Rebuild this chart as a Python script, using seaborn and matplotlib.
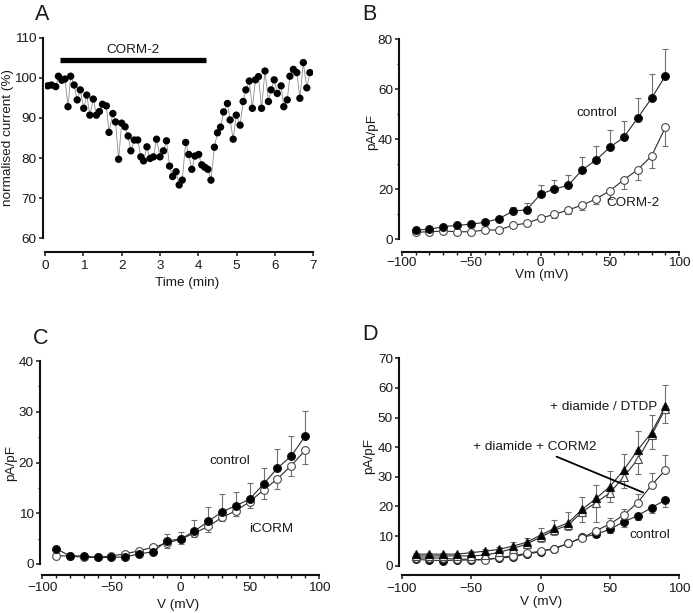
import numpy as np
import pandas as pd
import matplotlib
matplotlib.use("Agg")
import matplotlib.pyplot as plt
from matplotlib.ticker import MultipleLocator
import seaborn as sns

# ---------------- data ----------------
# Panel A: time course
time_min = [0.07, 0.17, 0.28, 0.35, 0.44, 0.52, 0.60, 0.67, 0.76, 0.84, 0.92, 1.01,
            1.09, 1.17, 1.26, 1.34, 1.42, 1.50, 1.60, 1.67, 1.77, 1.84, 1.92, 2.00,
            2.09, 2.17, 2.24, 2.33, 2.42, 2.50, 2.57, 2.66, 2.74, 2.83, 2.91, 3.00,
            3.09, 3.17, 3.25, 3.33, 3.42, 3.50, 3.58, 3.67, 3.75, 3.83, 3.91, 4.01,
            4.09, 4.17, 4.25, 4.33, 4.42, 4.50, 4.58, 4.66, 4.76, 4.83, 4.91, 4.99,
            5.09, 5.17, 5.24, 5.33, 5.41, 5.49, 5.57, 5.65, 5.74, 5.83, 5.90, 5.98,
            6.06, 6.16, 6.23, 6.32, 6.39, 6.48, 6.57, 6.65, 6.74, 6.83, 6.91]
norm_current = [98.0, 98.2, 97.8, 100.4, 99.4, 99.7, 92.8, 100.4, 98.2, 94.5, 97.0, 92.4,
                95.7, 90.7, 94.7, 90.7, 91.6, 93.4, 93.0, 86.4, 91.1, 89.0, 79.7, 88.7,
                87.8, 85.5, 81.8, 84.5, 84.5, 80.3, 79.3, 82.8, 79.9, 80.3, 84.7, 80.3,
                81.8, 84.3, 78.0, 75.4, 76.6, 73.3, 74.5, 83.9, 80.9, 77.2, 80.5, 80.9,
                78.3, 77.7, 77.2, 74.5, 82.7, 86.3, 87.7, 91.5, 93.6, 89.5, 84.7, 90.7,
                88.2, 94.1, 97.0, 99.2, 92.4, 99.5, 100.3, 92.4, 101.7, 94.1, 97.0, 99.5,
                96.1, 98.0, 92.8, 94.5, 100.4, 102.1, 101.3, 94.9, 103.8, 97.5, 101.3]
corm_bar_start, corm_bar_end = 0.39, 4.19

# Voltages (mV)
volt = [-90, -80, -70, -60, -50, -40, -30, -20, -10, 0, 10, 20, 30, 40, 50, 60, 70, 80, 90]

# Panel B
b_control = [3.6, 3.9, 4.9, 5.5, 5.9, 6.7, 8.1, 11.1, 11.7, 17.9, 20.0, 21.5, 27.6, 31.6, 36.7, 40.7, 48.4, 56.3, 65.3]
b_control_err = [0.4, 0.4, 0.5, 0.5, 0.6, 0.7, 0.9, 1.7, 2.6, 3.6, 3.5, 4.2, 5.2, 5.6, 6.9, 6.6, 8.1, 9.6, 10.7]
b_corm2 = [2.7, 2.9, 3.2, 2.9, 2.9, 3.6, 3.6, 5.5, 6.3, 8.3, 9.9, 11.6, 13.6, 16.0, 19.3, 23.7, 27.7, 33.2, 44.7]
b_corm2_err = [0.3, 0.3, 0.3, 0.3, 0.3, 0.4, 0.4, 0.6, 0.8, 1.0, 1.6, 1.7, 2.0, 2.0, 3.3, 3.8, 4.2, 4.9, 7.4]

# Panel C
c_control = [3.0, 1.6, 1.6, 1.3, 1.3, 1.4, 2.0, 2.4, 4.6, 4.9, 6.5, 8.4, 10.3, 11.5, 12.8, 15.8, 18.9, 21.3, 25.2]
c_control_err = [0.3, 0.2, 0.2, 0.2, 0.2, 0.3, 0.4, 0.5, 1.3, 1.4, 2.1, 2.9, 3.5, 2.6, 3.1, 3.2, 3.7, 4.0, 4.9]
c_icorm = [1.6, 1.6, 1.3, 1.3, 1.6, 2.0, 2.6, 3.3, 4.1, 4.9, 6.1, 7.4, 9.2, 10.5, 12.3, 14.6, 16.8, 19.4, 22.4]
c_icorm_err = [0.3, 0.2, 0.2, 0.2, 0.2, 0.3, 0.4, 0.5, 1.0, 1.0, 0.7, 1.1, 0.8, 1.0, 1.3, 1.8, 2.0, 2.0, 2.7]

# Panel D
d_diamide = [3.9, 3.9, 3.9, 3.9, 4.4, 4.9, 5.5, 6.6, 7.9, 10.3, 12.6, 14.5, 19.0, 22.7, 26.7, 32.3, 39.0, 44.9, 53.9]
d_diamide_err = [0.4, 0.4, 0.4, 0.4, 0.5, 0.6, 0.9, 1.3, 1.5, 2.5, 2.8, 3.7, 4.3, 4.6, 5.3, 5.5, 6.4, 5.9, 7.1]
d_dtdp = [3.3, 3.3, 3.3, 3.3, 3.3, 3.6, 4.5, 5.8, 7.3, 9.6, 12.0, 13.7, 18.2, 21.3, 24.6, 30.0, 35.9, 44.0, 53.0]
d_dtdp_err = [0.3, 0.3, 0.3, 0.3, 0.3, 0.4, 0.6, 0.8, 1.0, 1.6, 1.8, 1.7, 3.5, 6.5, 3.0, 3.7, 5.0, 4.5, 5.0]
d_diamide_corm2 = [2.5, 2.7, 2.5, 2.2, 2.2, 1.9, 2.8, 3.3, 4.2, 4.9, 5.8, 7.5, 9.4, 11.8, 14.1, 17.1, 21.3, 27.2, 32.3]
d_diamide_corm2_err = [0.2, 0.2, 0.2, 0.2, 0.2, 0.2, 0.3, 0.3, 0.4, 0.5, 0.6, 0.8, 0.9, 1.0, 1.9, 2.2, 2.8, 4.0, 5.0]
d_control = [2.1, 1.9, 1.7, 1.9, 1.9, 2.1, 2.5, 3.0, 3.9, 4.7, 5.8, 7.5, 9.6, 10.6, 12.3, 14.8, 16.9, 19.6, 22.2]
d_control_err = [0.2, 0.2, 0.2, 0.2, 0.2, 0.2, 0.3, 0.3, 0.4, 0.5, 0.6, 0.7, 0.8, 0.9, 1.2, 1.6, 1.5, 1.9, 2.3]

# ---------------- style ----------------
sns.set_style("ticks")
plt.rcParams["font.family"] = ["Liberation Sans", "DejaVu Sans"]
TXT = "#1a1a1a"
FS = 9.7
plt.rcParams.update({
    "font.size": FS,
    "text.color": TXT,
    "axes.labelcolor": TXT,
    "xtick.color": TXT,
    "ytick.color": TXT,
    "axes.edgecolor": "#111111",
    "axes.linewidth": 1.5,
    "xtick.major.width": 1.1,
    "ytick.major.width": 1.1,
    "xtick.minor.width": 1.0,
    "ytick.minor.width": 1.0,
    "xtick.major.size": 2.6,
    "ytick.major.size": 2.6,
    "xtick.minor.size": 1.8,
    "ytick.minor.size": 1.8,
    "xtick.labelsize": FS,
    "ytick.labelsize": FS,
    "axes.labelsize": FS,
})

W, H = 693, 613
fig = plt.figure(figsize=(W / 100, H / 100), dpi=100)


def make_ax(left, top, right, bottom):
    return fig.add_axes([left / W, 1 - bottom / H, (right - left) / W, (bottom - top) / H])


def style_ax(ax, bottom_off, left_off=1.6, xpad=3.0):
    sns.despine(ax=ax)
    ax.spines["left"].set_position(("outward", left_off))
    ax.spines["bottom"].set_position(("outward", bottom_off))
    ax.tick_params(axis="both", which="both", direction="out")
    ax.tick_params(axis="x", pad=xpad)
    ax.tick_params(axis="y", pad=2)
    ax.patch.set_alpha(0)


def iv_series(ax, y, err, marker, filled, direction, z):
    x = np.array(volt)
    y = np.array(y)
    e = np.array(err)
    zeros = np.zeros_like(e)
    yerr = [zeros, e] if direction == "up" else [e, zeros]
    ax.errorbar(x, y, yerr=yerr, fmt="none", ecolor="#6f6f6f", elinewidth=0.8,
                capsize=2.4, capthick=0.8, zorder=z)
    df = pd.DataFrame({"V": x, "I": y})
    sns.lineplot(data=df, x="V", y="I", ax=ax, color="#2a2a2a", lw=0.8,
                 marker=marker, markersize=5.6 if marker == "o" else 6.0,
                 markerfacecolor="black" if filled else "white",
                 markeredgecolor="#111111" if filled else "#4a4a4a",
                 markeredgewidth=0.8, zorder=z + 1, estimator=None, sort=False)


def set_labels(ax, xl, yl, xpos, ypos):
    ax.set_xlabel(xl)
    ax.set_ylabel(yl)
    ax.xaxis.set_label_coords(*xpos)
    ax.yaxis.set_label_coords(*ypos)
    ax.xaxis.label.set_va("center")
    ax.yaxis.label.set_va("center")


# ---------------- Panel A ----------------
axA = make_ax(45, 37.7, 313.3, 238.3)
dfA = pd.DataFrame({"t": time_min, "v": norm_current})
sns.lineplot(data=dfA, x="t", y="v", ax=axA, color="#8a8a8a", lw=0.6,
             estimator=None, sort=False, zorder=2)
sns.scatterplot(data=dfA, x="t", y="v", ax=axA, color="black", s=28,
                edgecolor="none", zorder=3)
axA.plot([corm_bar_start, corm_bar_end], [104.4, 104.4], color="black", lw=3.8,
         solid_capstyle="butt", clip_on=False)
axA.text((corm_bar_start + corm_bar_end) / 2, 106.9, "CORM-2", ha="center", va="center")
axA.set_xlim(0, 7)
axA.set_ylim(60, 110)
axA.xaxis.set_major_locator(MultipleLocator(1))
axA.yaxis.set_major_locator(MultipleLocator(10))
style_ax(axA, 10.0, 1.6, xpad=3.0)
set_labels(axA, "Time (min)", "normalised current (%)", (0.528, -0.224), (-0.138, 0.5))

# ---------------- Panel B ----------------
axB = make_ax(401.7, 39, 679.3, 239)
iv_series(axB, b_corm2, b_corm2_err, "o", False, "down", 2)
iv_series(axB, b_control, b_control_err, "o", True, "up", 4)
axB.text(40.5, 50.3, "control", ha="center", va="center")
axB.text(66.9, 14.5, "CORM-2", ha="center", va="center")
axB.set_xlim(-100, 100)
axB.set_ylim(0, 80)
axB.xaxis.set_major_locator(MultipleLocator(50))
axB.xaxis.set_minor_locator(MultipleLocator(10))
axB.yaxis.set_major_locator(MultipleLocator(20))
axB.yaxis.set_minor_locator(MultipleLocator(10))
style_ax(axB, 9.6, 1.7, xpad=0.6)
set_labels(axB, "Vm (mV)", "pA/pF", (0.504, -0.182), (-0.108, 0.536))

# ---------------- Panel C ----------------
axC = make_ax(42.3, 361, 319, 564)
iv_series(axC, c_icorm, c_icorm_err, "o", False, "down", 2)
iv_series(axC, c_control, c_control_err, "o", True, "up", 4)
axC.text(35.7, 20.2, "control", ha="center", va="center")
axC.text(65.8, 6.9, "iCORM", ha="center", va="center")
axC.set_xlim(-100, 100)
axC.set_ylim(0, 40)
axC.xaxis.set_major_locator(MultipleLocator(50))
axC.xaxis.set_minor_locator(MultipleLocator(10))
axC.yaxis.set_major_locator(MultipleLocator(10))
axC.yaxis.set_minor_locator(MultipleLocator(5))
style_ax(axC, 8.0, 1.7, xpad=2.6)
set_labels(axC, "V (mV)", "pA/pF", (0.4915, -0.2), (-0.112, 0.496))

# ---------------- Panel D ----------------
axD = make_ax(401.7, 358.3, 679.3, 565.7)
iv_series(axD, d_control, d_control_err, "o", True, "down", 2)
iv_series(axD, d_diamide_corm2, d_diamide_corm2_err, "o", False, "up", 4)
iv_series(axD, d_dtdp, d_dtdp_err, "^", False, "down", 6)
iv_series(axD, d_diamide, d_diamide_err, "^", True, "up", 8)
axD.text(45.4, 53.7, "+ diamide / DTDP", ha="center", va="center", zorder=10)
axD.text(-4.0, 39.9, "+ diamide + CORM2", ha="center", va="center", zorder=10)
axD.plot([11.6, 74.0], [36.8, 24.7], color="black", lw=1.3, zorder=10)
axD.text(78.4, 10.3, "control", ha="center", va="center")
axD.set_xlim(-100, 100)
axD.set_ylim(0, 70)
axD.xaxis.set_major_locator(MultipleLocator(50))
axD.yaxis.set_major_locator(MultipleLocator(10))
style_ax(axD, 6.7, 1.7, xpad=3.0)
set_labels(axD, "V (mV)", "pA/pF", (0.504, -0.176), (-0.118, 0.53))

# ---------------- panel letters ----------------
for letter, (px, py) in {"A": (41.7, 14.5), "B": (369, 14), "C": (40.7, 339), "D": (370, 334)}.items():
    fig.text(px / W, 1 - py / H, letter, ha="center", va="center", fontsize=15.5, color=TXT)

fig.savefig("out.png", dpi=100)
